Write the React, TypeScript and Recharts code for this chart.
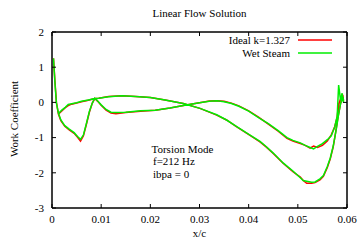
import { LineChart, Line, XAxis, YAxis, Legend, ReferenceArea } from 'recharts';

// path goes: leading-edge spike -> surface 1 to trailing edge -> surface 2 back to leading edge
const xc = [
  0.0003, 0.0006, 0.0009, 0.0013,
  0.0018, 0.0026, 0.0035, 0.0045, 0.0052, 0.0058, 0.0064, 0.007, 0.0076, 0.0082, 0.0087, 0.0093,
  0.01, 0.011, 0.012, 0.013, 0.015, 0.018, 0.021, 0.024, 0.027, 0.03, 0.032, 0.0335, 0.035, 0.0365,
  0.038, 0.04, 0.042, 0.044, 0.046, 0.0478, 0.049, 0.0505, 0.0515, 0.0525, 0.0532, 0.054, 0.055,
  0.056, 0.0568, 0.0575, 0.058, 0.0583, 0.0587, 0.059, 0.0593,
  0.0592, 0.0587, 0.0582, 0.0578, 0.0572, 0.0566, 0.056, 0.0552, 0.0545, 0.0535, 0.0528, 0.0518,
  0.0511, 0.0505, 0.049, 0.047, 0.045, 0.0436, 0.0423, 0.0402, 0.0375, 0.0355, 0.0335, 0.0301,
  0.0267, 0.023, 0.02, 0.017, 0.0142, 0.0115, 0.0095, 0.0087, 0.0074, 0.006, 0.005, 0.004, 0.0033,
  0.0027, 0.002, 0.0014,
];

const idealK = [
  1.25, 0.6, 0.0, -0.33,
  -0.52, -0.68, -0.78, -0.88, -0.99, -1.1, -0.95, -0.62, -0.28, -0.02, 0.11, 0.03,
  -0.08, -0.22, -0.3, -0.32, -0.29, -0.25, -0.22, -0.16, -0.08, -0.01, 0.04, 0.05, 0.03, -0.02,
  -0.1, -0.24, -0.42, -0.62, -0.82, -1.02, -1.1, -1.17, -1.22, -1.3, -1.24, -1.28, -1.22,
  -1.1, -0.92, -0.69, -0.41, -0.05, 0.1, 0.2, 0.05,
  0.15, -0.03, -0.4, -0.75, -1.26, -1.6, -1.85, -2.1, -2.2, -2.28, -2.3, -2.3,
  -2.22, -2.12, -1.97, -1.73, -1.45, -1.27, -1.12, -0.93, -0.69, -0.5, -0.36, -0.17,
  -0.03, 0.07, 0.14, 0.17, 0.19, 0.17, 0.12, 0.11, 0.06, 0.02, -0.02, -0.05, -0.09,
  -0.15, -0.24, -0.32,
];

const wetSteam = [
  1.25, 0.55, -0.02, -0.3,
  -0.5, -0.66, -0.76, -0.86, -0.97, -1.05, -0.92, -0.6, -0.26, -0.02, 0.12, 0.04,
  -0.07, -0.2, -0.28, -0.29, -0.28, -0.24, -0.22, -0.16, -0.08, -0.01, 0.03, 0.05, 0.02, -0.03,
  -0.11, -0.25, -0.43, -0.6, -0.8, -1.0, -1.08, -1.15, -1.22, -1.28, -1.32, -1.25, -1.17,
  -1.06, -0.95, -0.7, -0.4, 0.49, 0.05, 0.26, 0.0,
  0.15, -0.03, -0.42, -0.78, -1.24, -1.58, -1.82, -2.08, -2.17, -2.26, -2.27, -2.24,
  -2.22, -2.14, -1.95, -1.72, -1.44, -1.26, -1.11, -0.92, -0.68, -0.5, -0.35, -0.17,
  -0.03, 0.07, 0.14, 0.17, 0.19, 0.16, 0.12, 0.11, 0.07, 0.03, -0.01, -0.04, -0.06,
  -0.14, -0.22, -0.3,
];

const xTicks = [0, 0.01, 0.02, 0.03, 0.04, 0.05, 0.06];
const yTicks = [-3, -2, -1, 0, 1, 2];

const data = xc.map((x, i) => ({ x, ideal: idealK[i], wet: wetSteam[i] }));

const font = '"Liberation Serif", "Times New Roman", serif';
const TICK = 4;

const BottomTick = (props: any) => {
  const { x, y, payload } = props;
  const v = payload.value;
  return (
    <g>
      <line x1={x} y1={y} x2={x} y2={y - TICK} stroke="#000" />
      <text x={x} y={y + 15} textAnchor="middle" fontSize={11} fontFamily={font} fill="#000">
        {v === 0 ? '0' : v.toFixed(2)}
      </text>
    </g>
  );
};

const LeftTick = (props: any) => {
  const { x, y, payload } = props;
  return (
    <g>
      <line x1={x} y1={y} x2={x + TICK} y2={y} stroke="#000" />
      <text x={x - 8} y={y} dy="0.35em" textAnchor="end" fontSize={11} fontFamily={font} fill="#000">
        {payload.value}
      </text>
    </g>
  );
};

const TopTick = (props: any) => (
  <line x1={props.x} y1={props.y} x2={props.x} y2={props.y + TICK} stroke="#000" />
);

const RightTick = (props: any) => (
  <line x1={props.x} y1={props.y} x2={props.x - TICK} y2={props.y} stroke="#000" />
);

const legendItems = [
  { label: 'Ideal k=1.327', color: '#ff0000' },
  { label: 'Wet Steam', color: '#00ee00' },
];

const LegendBox = () => (
  <div style={{ fontFamily: font, fontSize: 11, color: '#000' }}>
    {legendItems.map((it) => (
      <div key={it.label} style={{ display: 'flex', justifyContent: 'flex-end', alignItems: 'center', height: 13.5 }}>
        <span>{it.label}</span>
        <svg width={34} height={4} style={{ marginLeft: 8 }}>
          <line x1={0} y1={2} x2={34} y2={2} stroke={it.color} strokeWidth={1.5} />
        </svg>
      </div>
    ))}
  </div>
);

const textStyle = { position: 'absolute' as const, fontFamily: font, fontSize: 11, lineHeight: '13px', color: '#000', whiteSpace: 'nowrap' as const };

export default function App() {
  return (
    <div style={{ position: 'fixed', left: 0, top: 0, width: 360, height: 245, background: '#fff' }}>
      <LineChart width={360} height={245} data={data} margin={{ top: 31, right: 12, left: 0, bottom: 0 }}>
        <XAxis
          dataKey="x"
          type="number"
          domain={[0, 0.06]}
          ticks={xTicks}
          height={37}
          tickSize={0}
          tickMargin={0}
          tickLine={false}
          stroke="#000"
          tick={<BottomTick />}
          interval={0}
        />
        <XAxis
          xAxisId="top"
          dataKey="x"
          orientation="top"
          type="number"
          domain={[0, 0.06]}
          ticks={xTicks}
          height={1}
          tickSize={0}
          tickMargin={0}
          tickLine={false}
          stroke="#000"
          tick={<TopTick />}
          interval={0}
        />
        <YAxis
          type="number"
          domain={[-3, 2]}
          ticks={yTicks}
          width={52}
          tickSize={0}
          tickMargin={0}
          tickLine={false}
          stroke="#000"
          tick={<LeftTick />}
          interval={0}
        />
        <YAxis
          yAxisId="right"
          orientation="right"
          type="number"
          domain={[-3, 2]}
          ticks={yTicks}
          width={1}
          tickSize={0}
          tickMargin={0}
          tickLine={false}
          stroke="#000"
          tick={<RightTick />}
          interval={0}
        />
        <ReferenceArea x1={0} x2={0.06} y1={-3} y2={2} fill="none" stroke="#000" strokeWidth={1} ifOverflow="extendDomain" />
        <Legend
          verticalAlign="middle"
          layout="horizontal"
          align="center"
          content={<LegendBox />}
          wrapperStyle={{ position: 'absolute', top: 33, left: 188, width: 144, bottom: 'auto', right: 'auto' }}
        />
        {/* invisible series only so the mirrored top/right border axes get drawn */}
        <Line xAxisId="top" yAxisId="right" dataKey="wet" stroke="none" dot={false} activeDot={false} legendType="none" isAnimationActive={false} />
        <Line dataKey="ideal" name="Ideal k=1.327" type="linear" stroke="#ff0000" strokeWidth={1.5} dot={false} isAnimationActive={false} />
        <Line dataKey="wet" name="Wet Steam" type="linear" stroke="#00ee00" strokeWidth={1.5} dot={false} isAnimationActive={false} />
      </LineChart>
      <div style={{ ...textStyle, top: 7, left: 52, width: 295, textAlign: 'center' }}>Linear Flow Solution</div>
      <div style={{ ...textStyle, top: 227, left: 52, width: 295, textAlign: 'center' }}>x/c</div>
      <div style={{ ...textStyle, top: 119, left: 14, transform: 'translate(-50%, -50%) rotate(-90deg)' }}>Work Coefficient</div>
      <div style={{ ...textStyle, top: 142.5, left: 151.5 }}>Torsion Mode</div>
      <div style={{ ...textStyle, top: 154.5, left: 153 }}>f=212 Hz</div>
      <div style={{ ...textStyle, top: 167.5, left: 153 }}>ibpa = 0</div>
    </div>
  );
}
